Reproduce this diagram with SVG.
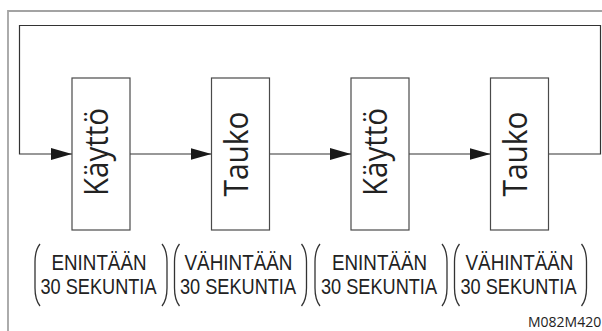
<svg xmlns="http://www.w3.org/2000/svg" width="602" height="331" viewBox="0 0 602 331">
<style>
.frame{fill:none;stroke:#a3a3a3;stroke-width:1.8}
.box{fill:#fff;stroke:#4a4a4a;stroke-width:1.2}
.conn{fill:none;stroke:#333;stroke-width:1.2}
.big{font-family:"Open Sans","Noto Sans",sans-serif;font-size:32px;fill:#222;text-anchor:middle}
.lbl{font-family:"Liberation Sans",Arial,sans-serif;font-size:21.4px;fill:#222;text-anchor:middle}
.par{fill:none;stroke:#333;stroke-width:1.3}
.code{font-family:"Open Sans","Noto Sans",sans-serif;font-size:14px;fill:#222}
</style>
<defs>
<marker id="arr" markerUnits="userSpaceOnUse" markerWidth="21" markerHeight="12" refX="21" refY="6" orient="auto">
<path d="M0,0 L21,6 L0,12 Z" fill="#1a1a1a"/>
</marker>
</defs>
<rect width="602" height="331" fill="#fff"/>
<path class="frame" d="M8,331 V11 H602"/>
<g id="connectors">
<path class="conn" d="M549,154 H600.5 V25.5 H19.5 V154 H72" marker-end="url(#arr)"/>
<path class="conn" d="M130,154 H211.5" marker-end="url(#arr)"/>
<path class="conn" d="M269.5,154 H351" marker-end="url(#arr)"/>
<path class="conn" d="M409,154 H490.5" marker-end="url(#arr)"/>
</g>
<g id="node1">
<rect class="box" x="72" y="78" width="58" height="152"/>
<text class="big" transform="translate(108,152) rotate(-90)" textLength="88" lengthAdjust="spacingAndGlyphs">Käyttö</text>
</g>
<g id="node2">
<rect class="box" x="211.5" y="78" width="58" height="152"/>
<text class="big" transform="translate(248,154) rotate(-90)" textLength="85" lengthAdjust="spacingAndGlyphs">Tauko</text>
</g>
<g id="node3">
<rect class="box" x="351" y="78" width="58" height="152"/>
<text class="big" transform="translate(387,152) rotate(-90)" textLength="88" lengthAdjust="spacingAndGlyphs">Käyttö</text>
</g>
<g id="node4">
<rect class="box" x="490.5" y="78" width="58" height="152"/>
<text class="big" transform="translate(527,154) rotate(-90)" textLength="85" lengthAdjust="spacingAndGlyphs">Tauko</text>
</g>
<g id="label1">
<path class="par" d="M40,244 C36,249 35,255 35,262 V288 C35,295 36,301 40,306"/>
<path class="par" d="M162,244 C166,249 167,255 167,262 V288 C167,295 166,301 162,306"/>
<text class="lbl"><tspan x="99" y="270" textLength="95" lengthAdjust="spacingAndGlyphs">ENINTÄÄN</tspan><tspan x="98.5" y="294.2" textLength="116" lengthAdjust="spacingAndGlyphs">30 SEKUNTIA</tspan></text>
</g>
<g id="label2">
<path class="par" d="M179.5,244 C175.5,249 174.5,255 174.5,262 V288 C174.5,295 175.5,301 179.5,306"/>
<path class="par" d="M301.5,244 C305.5,249 306.5,255 306.5,262 V288 C306.5,295 305.5,301 301.5,306"/>
<text class="lbl"><tspan x="238.5" y="270" textLength="108" lengthAdjust="spacingAndGlyphs">VÄHINTÄÄN</tspan><tspan x="238" y="294.2" textLength="116" lengthAdjust="spacingAndGlyphs">30 SEKUNTIA</tspan></text>
</g>
<g id="label3">
<path class="par" d="M320,244 C316,249 315,255 315,262 V288 C315,295 316,301 320,306"/>
<path class="par" d="M442,244 C446,249 447,255 447,262 V288 C447,295 446,301 442,306"/>
<text class="lbl"><tspan x="379.5" y="270" textLength="95" lengthAdjust="spacingAndGlyphs">ENINTÄÄN</tspan><tspan x="379" y="294.2" textLength="116" lengthAdjust="spacingAndGlyphs">30 SEKUNTIA</tspan></text>
</g>
<g id="label4">
<path class="par" d="M459.5,244 C455.5,249 454.5,255 454.5,262 V288 C454.5,295 455.5,301 459.5,306"/>
<path class="par" d="M581.5,244 C585.5,249 586.5,255 586.5,262 V288 C586.5,295 585.5,301 581.5,306"/>
<text class="lbl"><tspan x="519.5" y="270" textLength="108" lengthAdjust="spacingAndGlyphs">VÄHINTÄÄN</tspan><tspan x="518.5" y="294.2" textLength="116" lengthAdjust="spacingAndGlyphs">30 SEKUNTIA</tspan></text>
</g>
<text class="code" x="528" y="327">M082M420</text>
</svg>
